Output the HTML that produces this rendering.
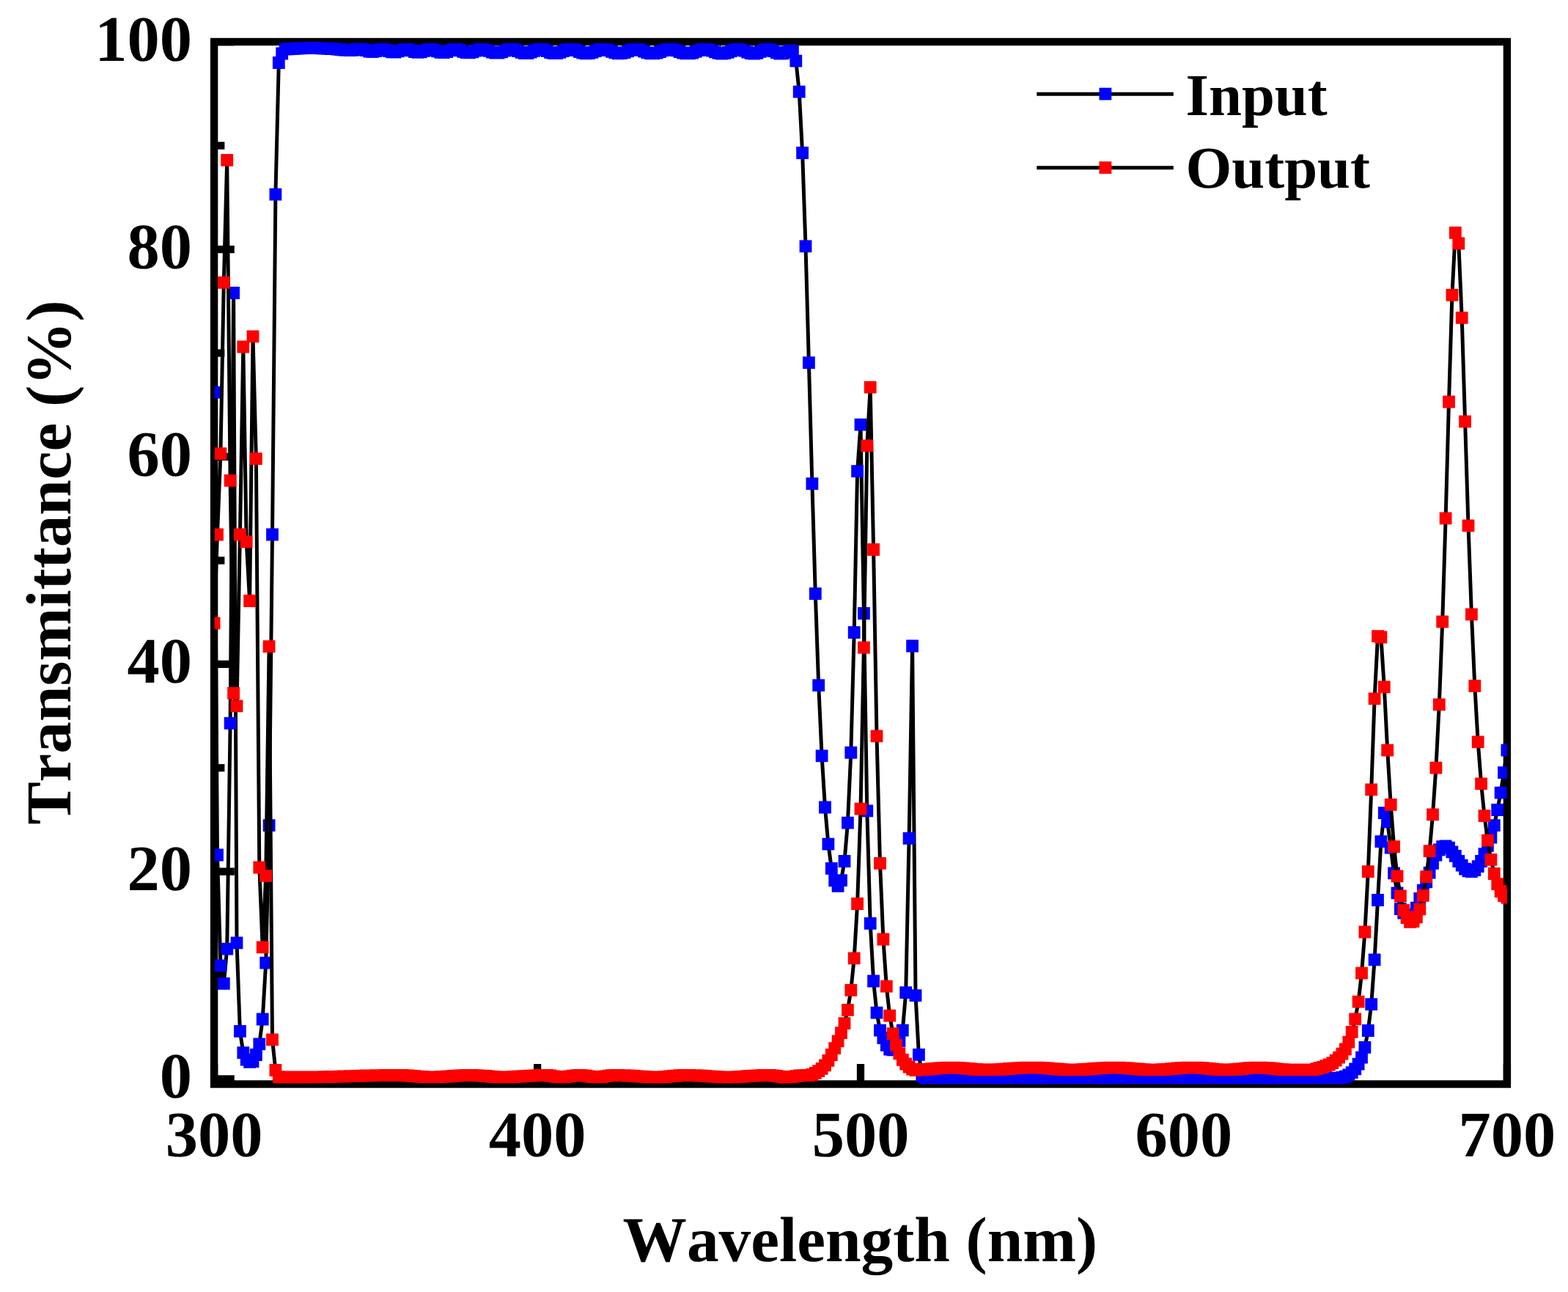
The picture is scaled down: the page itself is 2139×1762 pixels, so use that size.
<!DOCTYPE html>
<html lang="en">
<head>
<meta charset="utf-8">
<title>Transmittance vs Wavelength</title>
<style>
html,body{margin:0;padding:0;background:#fff;}
body{width:2139px;height:1762px;}
svg{display:block;}
text{font-family:"Liberation Serif","DejaVu Serif",serif;font-weight:bold;fill:#000;font-kerning:none;font-variant-ligatures:none;text-rendering:geometricPrecision;}
</style>
</head>
<body>
<svg width="2139" height="1762" viewBox="0 0 2139 1762">
<defs><clipPath id="plotclip"><rect x="292.70000000000005" y="0" width="1763.2000000000003" height="1480.0"/></clipPath></defs>
<rect x="0" y="0" width="2139" height="1762" fill="#fff"/>
<g stroke="#000" stroke-width="10.3" fill="none">
<line x1="292.1" y1="1471.5" x2="319.8" y2="1471.5"/>
<line x1="292.1" y1="1330.1" x2="306.4" y2="1330.1"/>
<line x1="292.1" y1="1188.6" x2="319.8" y2="1188.6"/>
<line x1="292.1" y1="1047.2" x2="306.4" y2="1047.2"/>
<line x1="292.1" y1="905.8" x2="319.8" y2="905.8"/>
<line x1="292.1" y1="764.4" x2="306.4" y2="764.4"/>
<line x1="292.1" y1="622.9" x2="319.8" y2="622.9"/>
<line x1="292.1" y1="481.5" x2="306.4" y2="481.5"/>
<line x1="292.1" y1="340.1" x2="319.8" y2="340.1"/>
<line x1="292.1" y1="198.6" x2="306.4" y2="198.6"/>
<line x1="292.1" y1="57.2" x2="319.8" y2="57.2"/>
<line x1="292.1" y1="1478.5" x2="292.1" y2="1451.0"/>
<line x1="512.6" y1="1478.5" x2="512.6" y2="1464.5"/>
<line x1="733.1" y1="1478.5" x2="733.1" y2="1451.0"/>
<line x1="953.5" y1="1478.5" x2="953.5" y2="1464.5"/>
<line x1="1174.0" y1="1478.5" x2="1174.0" y2="1451.0"/>
<line x1="1394.5" y1="1478.5" x2="1394.5" y2="1464.5"/>
<line x1="1614.9" y1="1478.5" x2="1614.9" y2="1451.0"/>
<line x1="1835.4" y1="1478.5" x2="1835.4" y2="1464.5"/>
<line x1="2055.9" y1="1478.5" x2="2055.9" y2="1451.0"/>
</g>
<rect x="292.1" y="57.0" width="1763.8000000000002" height="1421.5" fill="none" stroke="#000" stroke-width="10.4"/>
<g clip-path="url(#plotclip)">
<polyline points="292.1,535.2 296.5,1166.0 300.9,1316.9 305.3,1341.4 309.7,1294.1 314.1,986.4 318.6,399.5 323.0,1285.8 327.4,1406.4 331.8,1435.7 336.2,1445.1 340.6,1448.4 345.0,1447.7 349.4,1438.5 353.8,1423.8 358.2,1390.0 362.7,1313.1 367.1,1125.7 371.5,729.0 375.9,265.1 380.3,85.5 384.7,73.0 389.1,67.1 393.5,66.8 397.9,66.5 402.3,66.3 406.7,66.0 411.2,65.9 415.6,65.7 420.0,65.6 424.4,65.5 428.8,65.4 433.2,65.6 437.6,65.9 442.0,66.1 446.4,66.3 450.8,66.5 455.3,66.7 459.7,67.1 464.1,67.5 468.5,68.0 472.9,68.4 477.3,68.6 481.7,68.3 486.1,67.5 490.5,67.0 494.9,67.4 499.3,68.7 503.8,70.1 508.2,70.6 512.6,69.7 517.0,68.1 521.4,67.2 525.8,67.9 530.2,69.5 534.6,70.9 539.0,71.0 543.4,69.8 547.9,68.3 552.3,67.3 556.7,67.5 561.1,68.9 565.5,70.6 569.9,71.4 574.3,70.9 578.7,69.3 583.1,67.7 587.5,67.2 591.9,68.1 596.4,69.9 600.8,71.4 605.2,71.6 609.6,70.5 614.0,68.8 618.4,67.4 622.8,67.3 627.2,68.5 631.6,70.3 636.0,71.7 640.5,71.9 644.9,70.9 649.3,69.2 653.7,67.7 658.1,67.1 662.5,67.8 666.9,69.4 671.3,71.2 675.7,72.2 680.1,72.0 684.5,70.8 689.0,69.0 693.4,67.6 697.8,67.1 702.2,67.8 706.6,69.5 711.0,71.3 715.4,72.5 719.8,72.5 724.2,71.2 728.6,69.3 733.1,67.7 737.5,67.1 741.9,67.9 746.3,69.7 750.7,71.6 755.1,72.7 759.5,72.5 763.9,71.3 768.3,69.6 772.7,68.0 777.1,67.2 781.6,67.4 786.0,68.7 790.4,70.5 794.8,72.0 799.2,72.8 803.6,72.5 808.0,71.3 812.4,69.6 816.8,68.0 821.2,67.2 825.6,67.4 830.1,68.6 834.5,70.3 838.9,71.9 843.3,72.8 847.7,72.7 852.1,71.6 856.5,69.9 860.9,68.2 865.3,67.3 869.7,67.3 874.2,68.4 878.6,70.1 883.0,71.8 887.4,72.8 891.8,72.8 896.2,72.0 900.6,70.5 905.0,68.9 909.4,67.6 913.8,67.2 918.2,67.6 922.7,68.9 927.1,70.5 931.5,72.0 935.9,72.9 940.3,72.9 944.7,72.0 949.1,70.4 953.5,68.7 957.9,67.5 962.3,67.2 966.8,67.8 971.2,69.2 975.6,70.9 980.0,72.4 984.4,73.0 988.8,72.7 993.2,71.3 997.6,69.5 1002.0,67.9 1006.4,67.2 1010.8,67.7 1015.3,69.1 1019.7,71.0 1024.1,72.5 1028.5,73.1 1032.9,72.3 1037.3,70.3 1041.7,68.3 1046.1,67.2 1050.5,67.8 1054.9,69.7 1059.4,71.8 1063.8,73.1 1068.2,72.8 1072.6,71.1 1077.0,68.9 1081.4,69.9 1085.8,83.1 1090.2,125.1 1094.6,208.5 1099.0,335.8 1103.4,494.6 1107.9,659.7 1112.3,809.6 1116.7,934.6 1121.1,1030.8 1125.5,1101.0 1129.9,1151.2 1134.3,1184.4 1138.7,1200.9 1143.1,1208.4 1147.5,1200.7 1152.0,1174.5 1156.4,1122.2 1160.8,1026.3 1165.2,862.5 1169.6,642.7 1174.0,579.1 1178.4,836.5 1182.8,1105.9 1187.2,1259.4 1191.6,1338.0 1196.0,1381.1 1200.5,1405.2 1204.9,1415.5 1209.3,1425.4 1213.7,1431.1 1218.1,1431.9 1222.5,1429.1 1226.9,1419.7 1231.3,1405.2 1235.7,1353.7 1240.1,1143.4 1244.6,881.0 1249.0,1357.6 1253.4,1438.4 1257.8,1467.3 1262.2,1470.1 1266.6,1470.1 1271.0,1470.1 1275.4,1470.1 1279.8,1470.1 1284.2,1470.1 1288.6,1470.1 1293.1,1470.1 1297.5,1470.1 1301.9,1470.1 1306.3,1470.1 1310.7,1470.1 1315.1,1470.1 1319.5,1470.1 1323.9,1470.1 1328.3,1470.1 1332.7,1470.1 1337.2,1470.1 1341.6,1470.1 1346.0,1470.1 1350.4,1470.1 1354.8,1470.1 1359.2,1470.1 1363.6,1470.1 1368.0,1470.1 1372.4,1470.1 1376.8,1470.1 1381.2,1470.1 1385.7,1470.1 1390.1,1470.1 1394.5,1470.1 1398.9,1470.1 1403.3,1470.1 1407.7,1470.1 1412.1,1470.1 1416.5,1470.1 1420.9,1470.1 1425.3,1470.1 1429.8,1470.1 1434.2,1470.1 1438.6,1470.1 1443.0,1470.1 1447.4,1470.1 1451.8,1470.1 1456.2,1470.1 1460.6,1470.1 1465.0,1470.1 1469.4,1470.1 1473.8,1470.1 1478.3,1470.1 1482.7,1470.1 1487.1,1470.1 1491.5,1470.1 1495.9,1470.1 1500.3,1470.1 1504.7,1470.1 1509.1,1470.1 1513.5,1470.1 1517.9,1470.1 1522.4,1470.1 1526.8,1470.1 1531.2,1470.1 1535.6,1470.1 1540.0,1470.1 1544.4,1470.1 1548.8,1470.1 1553.2,1470.1 1557.6,1470.1 1562.0,1470.1 1566.4,1470.1 1570.9,1470.1 1575.3,1470.1 1579.7,1470.1 1584.1,1470.1 1588.5,1470.1 1592.9,1470.1 1597.3,1470.1 1601.7,1470.1 1606.1,1470.1 1610.5,1470.1 1614.9,1470.1 1619.4,1470.1 1623.8,1470.1 1628.2,1470.1 1632.6,1470.1 1637.0,1470.1 1641.4,1470.1 1645.8,1470.1 1650.2,1470.1 1654.6,1470.1 1659.0,1470.1 1663.5,1470.1 1667.9,1470.1 1672.3,1470.1 1676.7,1470.1 1681.1,1470.1 1685.5,1470.1 1689.9,1470.1 1694.3,1470.1 1698.7,1470.1 1703.1,1470.1 1707.5,1470.1 1712.0,1470.1 1716.4,1470.1 1720.8,1470.1 1725.2,1470.1 1729.6,1470.1 1734.0,1470.1 1738.4,1470.1 1742.8,1470.1 1747.2,1470.1 1751.6,1470.1 1756.1,1470.1 1760.5,1470.1 1764.9,1470.1 1769.3,1470.1 1773.7,1470.1 1778.1,1470.1 1782.5,1470.1 1786.9,1470.1 1791.3,1470.1 1795.7,1470.1 1800.1,1470.1 1804.6,1470.1 1809.0,1470.1 1813.4,1470.1 1817.8,1470.1 1822.2,1470.1 1826.6,1470.1 1831.0,1469.4 1835.4,1468.2 1839.8,1466.0 1844.2,1462.6 1848.7,1457.9 1853.1,1451.1 1857.5,1442.2 1861.9,1428.4 1866.3,1405.5 1870.7,1369.7 1875.1,1308.9 1879.5,1227.5 1883.9,1147.6 1888.3,1108.6 1892.7,1120.8 1897.2,1156.1 1901.6,1190.8 1906.0,1217.8 1910.4,1239.6 1914.8,1245.2 1919.2,1250.9 1923.6,1252.3 1928.0,1247.3 1932.4,1238.1 1936.8,1225.4 1941.3,1214.1 1945.7,1202.8 1950.1,1190.1 1954.5,1177.3 1958.9,1166.0 1963.3,1158.9 1967.7,1154.7 1972.1,1154.0 1976.5,1156.1 1980.9,1161.8 1985.3,1167.4 1989.8,1174.5 1994.2,1180.2 1998.6,1185.1 2003.0,1187.9 2007.4,1188.6 2011.8,1186.5 2016.2,1181.6 2020.6,1174.5 2025.0,1164.6 2029.4,1153.3 2033.9,1142.0 2038.3,1125.7 2042.7,1104.5 2047.1,1081.2 2051.5,1053.6 2055.9,1023.2" fill="none" stroke="#000" stroke-width="5.0" stroke-linejoin="round"/>
<path d="M283.7 526.8h16.8v16.8h-16.8zM288.1 1157.6h16.8v16.8h-16.8zM292.5 1308.5h16.8v16.8h-16.8zM296.9 1333.0h16.8v16.8h-16.8zM301.3 1285.7h16.8v16.8h-16.8zM305.7 978.0h16.8v16.8h-16.8zM310.2 391.1h16.8v16.8h-16.8zM314.6 1277.4h16.8v16.8h-16.8zM319.0 1398.0h16.8v16.8h-16.8zM323.4 1427.3h16.8v16.8h-16.8zM327.8 1436.7h16.8v16.8h-16.8zM332.2 1440.0h16.8v16.8h-16.8zM336.6 1439.3h16.8v16.8h-16.8zM341.0 1430.1h16.8v16.8h-16.8zM345.4 1415.4h16.8v16.8h-16.8zM349.8 1381.6h16.8v16.8h-16.8zM354.3 1304.7h16.8v16.8h-16.8zM358.7 1117.3h16.8v16.8h-16.8zM363.1 720.6h16.8v16.8h-16.8zM367.5 256.7h16.8v16.8h-16.8zM371.9 77.1h16.8v16.8h-16.8zM376.3 64.6h16.8v16.8h-16.8zM380.7 58.7h16.8v16.8h-16.8zM385.1 58.4h16.8v16.8h-16.8zM389.5 58.1h16.8v16.8h-16.8zM393.9 57.9h16.8v16.8h-16.8zM398.3 57.6h16.8v16.8h-16.8zM402.8 57.5h16.8v16.8h-16.8zM407.2 57.3h16.8v16.8h-16.8zM411.6 57.2h16.8v16.8h-16.8zM416.0 57.1h16.8v16.8h-16.8zM420.4 57.0h16.8v16.8h-16.8zM424.8 57.2h16.8v16.8h-16.8zM429.2 57.5h16.8v16.8h-16.8zM433.6 57.7h16.8v16.8h-16.8zM438.0 57.9h16.8v16.8h-16.8zM442.4 58.1h16.8v16.8h-16.8zM446.9 58.3h16.8v16.8h-16.8zM451.3 58.7h16.8v16.8h-16.8zM455.7 59.1h16.8v16.8h-16.8zM460.1 59.6h16.8v16.8h-16.8zM464.5 60.0h16.8v16.8h-16.8zM468.9 60.2h16.8v16.8h-16.8zM473.3 59.9h16.8v16.8h-16.8zM477.7 59.1h16.8v16.8h-16.8zM482.1 58.6h16.8v16.8h-16.8zM486.5 59.0h16.8v16.8h-16.8zM490.9 60.3h16.8v16.8h-16.8zM495.4 61.7h16.8v16.8h-16.8zM499.8 62.2h16.8v16.8h-16.8zM504.2 61.3h16.8v16.8h-16.8zM508.6 59.7h16.8v16.8h-16.8zM513.0 58.8h16.8v16.8h-16.8zM517.4 59.5h16.8v16.8h-16.8zM521.8 61.1h16.8v16.8h-16.8zM526.2 62.5h16.8v16.8h-16.8zM530.6 62.6h16.8v16.8h-16.8zM535.0 61.4h16.8v16.8h-16.8zM539.5 59.9h16.8v16.8h-16.8zM543.9 58.9h16.8v16.8h-16.8zM548.3 59.1h16.8v16.8h-16.8zM552.7 60.5h16.8v16.8h-16.8zM557.1 62.2h16.8v16.8h-16.8zM561.5 63.0h16.8v16.8h-16.8zM565.9 62.5h16.8v16.8h-16.8zM570.3 60.9h16.8v16.8h-16.8zM574.7 59.3h16.8v16.8h-16.8zM579.1 58.8h16.8v16.8h-16.8zM583.5 59.7h16.8v16.8h-16.8zM588.0 61.5h16.8v16.8h-16.8zM592.4 63.0h16.8v16.8h-16.8zM596.8 63.2h16.8v16.8h-16.8zM601.2 62.1h16.8v16.8h-16.8zM605.6 60.4h16.8v16.8h-16.8zM610.0 59.0h16.8v16.8h-16.8zM614.4 58.9h16.8v16.8h-16.8zM618.8 60.1h16.8v16.8h-16.8zM623.2 61.9h16.8v16.8h-16.8zM627.6 63.3h16.8v16.8h-16.8zM632.1 63.5h16.8v16.8h-16.8zM636.5 62.5h16.8v16.8h-16.8zM640.9 60.8h16.8v16.8h-16.8zM645.3 59.3h16.8v16.8h-16.8zM649.7 58.7h16.8v16.8h-16.8zM654.1 59.4h16.8v16.8h-16.8zM658.5 61.0h16.8v16.8h-16.8zM662.9 62.8h16.8v16.8h-16.8zM667.3 63.8h16.8v16.8h-16.8zM671.7 63.6h16.8v16.8h-16.8zM676.1 62.4h16.8v16.8h-16.8zM680.6 60.6h16.8v16.8h-16.8zM685.0 59.2h16.8v16.8h-16.8zM689.4 58.7h16.8v16.8h-16.8zM693.8 59.4h16.8v16.8h-16.8zM698.2 61.1h16.8v16.8h-16.8zM702.6 62.9h16.8v16.8h-16.8zM707.0 64.1h16.8v16.8h-16.8zM711.4 64.1h16.8v16.8h-16.8zM715.8 62.8h16.8v16.8h-16.8zM720.2 60.9h16.8v16.8h-16.8zM724.7 59.3h16.8v16.8h-16.8zM729.1 58.7h16.8v16.8h-16.8zM733.5 59.5h16.8v16.8h-16.8zM737.9 61.3h16.8v16.8h-16.8zM742.3 63.2h16.8v16.8h-16.8zM746.7 64.3h16.8v16.8h-16.8zM751.1 64.1h16.8v16.8h-16.8zM755.5 62.9h16.8v16.8h-16.8zM759.9 61.2h16.8v16.8h-16.8zM764.3 59.6h16.8v16.8h-16.8zM768.7 58.8h16.8v16.8h-16.8zM773.2 59.0h16.8v16.8h-16.8zM777.6 60.3h16.8v16.8h-16.8zM782.0 62.1h16.8v16.8h-16.8zM786.4 63.6h16.8v16.8h-16.8zM790.8 64.4h16.8v16.8h-16.8zM795.2 64.1h16.8v16.8h-16.8zM799.6 62.9h16.8v16.8h-16.8zM804.0 61.2h16.8v16.8h-16.8zM808.4 59.6h16.8v16.8h-16.8zM812.8 58.8h16.8v16.8h-16.8zM817.2 59.0h16.8v16.8h-16.8zM821.7 60.2h16.8v16.8h-16.8zM826.1 61.9h16.8v16.8h-16.8zM830.5 63.5h16.8v16.8h-16.8zM834.9 64.4h16.8v16.8h-16.8zM839.3 64.3h16.8v16.8h-16.8zM843.7 63.2h16.8v16.8h-16.8zM848.1 61.5h16.8v16.8h-16.8zM852.5 59.8h16.8v16.8h-16.8zM856.9 58.9h16.8v16.8h-16.8zM861.3 58.9h16.8v16.8h-16.8zM865.8 60.0h16.8v16.8h-16.8zM870.2 61.7h16.8v16.8h-16.8zM874.6 63.4h16.8v16.8h-16.8zM879.0 64.4h16.8v16.8h-16.8zM883.4 64.4h16.8v16.8h-16.8zM887.8 63.6h16.8v16.8h-16.8zM892.2 62.1h16.8v16.8h-16.8zM896.6 60.5h16.8v16.8h-16.8zM901.0 59.2h16.8v16.8h-16.8zM905.4 58.8h16.8v16.8h-16.8zM909.8 59.2h16.8v16.8h-16.8zM914.3 60.5h16.8v16.8h-16.8zM918.7 62.1h16.8v16.8h-16.8zM923.1 63.6h16.8v16.8h-16.8zM927.5 64.5h16.8v16.8h-16.8zM931.9 64.5h16.8v16.8h-16.8zM936.3 63.6h16.8v16.8h-16.8zM940.7 62.0h16.8v16.8h-16.8zM945.1 60.3h16.8v16.8h-16.8zM949.5 59.1h16.8v16.8h-16.8zM953.9 58.8h16.8v16.8h-16.8zM958.4 59.4h16.8v16.8h-16.8zM962.8 60.8h16.8v16.8h-16.8zM967.2 62.5h16.8v16.8h-16.8zM971.6 64.0h16.8v16.8h-16.8zM976.0 64.6h16.8v16.8h-16.8zM980.4 64.3h16.8v16.8h-16.8zM984.8 62.9h16.8v16.8h-16.8zM989.2 61.1h16.8v16.8h-16.8zM993.6 59.5h16.8v16.8h-16.8zM998.0 58.8h16.8v16.8h-16.8zM1002.4 59.3h16.8v16.8h-16.8zM1006.9 60.7h16.8v16.8h-16.8zM1011.3 62.6h16.8v16.8h-16.8zM1015.7 64.1h16.8v16.8h-16.8zM1020.1 64.7h16.8v16.8h-16.8zM1024.5 63.9h16.8v16.8h-16.8zM1028.9 61.9h16.8v16.8h-16.8zM1033.3 59.9h16.8v16.8h-16.8zM1037.7 58.8h16.8v16.8h-16.8zM1042.1 59.4h16.8v16.8h-16.8zM1046.5 61.3h16.8v16.8h-16.8zM1051.0 63.4h16.8v16.8h-16.8zM1055.4 64.7h16.8v16.8h-16.8zM1059.8 64.4h16.8v16.8h-16.8zM1064.2 62.7h16.8v16.8h-16.8zM1068.6 60.5h16.8v16.8h-16.8zM1073.0 61.5h16.8v16.8h-16.8zM1077.4 74.7h16.8v16.8h-16.8zM1081.8 116.7h16.8v16.8h-16.8zM1086.2 200.1h16.8v16.8h-16.8zM1090.6 327.4h16.8v16.8h-16.8zM1095.0 486.2h16.8v16.8h-16.8zM1099.5 651.3h16.8v16.8h-16.8zM1103.9 801.2h16.8v16.8h-16.8zM1108.3 926.2h16.8v16.8h-16.8zM1112.7 1022.4h16.8v16.8h-16.8zM1117.1 1092.6h16.8v16.8h-16.8zM1121.5 1142.8h16.8v16.8h-16.8zM1125.9 1176.0h16.8v16.8h-16.8zM1130.3 1192.5h16.8v16.8h-16.8zM1134.7 1200.0h16.8v16.8h-16.8zM1139.1 1192.3h16.8v16.8h-16.8zM1143.6 1166.1h16.8v16.8h-16.8zM1148.0 1113.8h16.8v16.8h-16.8zM1152.4 1017.9h16.8v16.8h-16.8zM1156.8 854.1h16.8v16.8h-16.8zM1161.2 634.3h16.8v16.8h-16.8zM1165.6 570.7h16.8v16.8h-16.8zM1170.0 828.1h16.8v16.8h-16.8zM1174.4 1097.5h16.8v16.8h-16.8zM1178.8 1251.0h16.8v16.8h-16.8zM1183.2 1329.6h16.8v16.8h-16.8zM1187.6 1372.7h16.8v16.8h-16.8zM1192.1 1396.8h16.8v16.8h-16.8zM1196.5 1407.1h16.8v16.8h-16.8zM1200.9 1417.0h16.8v16.8h-16.8zM1205.3 1422.7h16.8v16.8h-16.8zM1209.7 1423.5h16.8v16.8h-16.8zM1214.1 1420.7h16.8v16.8h-16.8zM1218.5 1411.3h16.8v16.8h-16.8zM1222.9 1396.8h16.8v16.8h-16.8zM1227.3 1345.3h16.8v16.8h-16.8zM1231.7 1135.0h16.8v16.8h-16.8zM1236.2 872.6h16.8v16.8h-16.8zM1240.6 1349.2h16.8v16.8h-16.8zM1245.0 1430.0h16.8v16.8h-16.8zM1249.4 1458.9h16.8v16.8h-16.8zM1253.8 1461.7h16.8v16.8h-16.8zM1258.2 1461.7h16.8v16.8h-16.8zM1262.6 1461.7h16.8v16.8h-16.8zM1267.0 1461.7h16.8v16.8h-16.8zM1271.4 1461.7h16.8v16.8h-16.8zM1275.8 1461.7h16.8v16.8h-16.8zM1280.2 1461.7h16.8v16.8h-16.8zM1284.7 1461.7h16.8v16.8h-16.8zM1289.1 1461.7h16.8v16.8h-16.8zM1293.5 1461.7h16.8v16.8h-16.8zM1297.9 1461.7h16.8v16.8h-16.8zM1302.3 1461.7h16.8v16.8h-16.8zM1306.7 1461.7h16.8v16.8h-16.8zM1311.1 1461.7h16.8v16.8h-16.8zM1315.5 1461.7h16.8v16.8h-16.8zM1319.9 1461.7h16.8v16.8h-16.8zM1324.3 1461.7h16.8v16.8h-16.8zM1328.8 1461.7h16.8v16.8h-16.8zM1333.2 1461.7h16.8v16.8h-16.8zM1337.6 1461.7h16.8v16.8h-16.8zM1342.0 1461.7h16.8v16.8h-16.8zM1346.4 1461.7h16.8v16.8h-16.8zM1350.8 1461.7h16.8v16.8h-16.8zM1355.2 1461.7h16.8v16.8h-16.8zM1359.6 1461.7h16.8v16.8h-16.8zM1364.0 1461.7h16.8v16.8h-16.8zM1368.4 1461.7h16.8v16.8h-16.8zM1372.8 1461.7h16.8v16.8h-16.8zM1377.3 1461.7h16.8v16.8h-16.8zM1381.7 1461.7h16.8v16.8h-16.8zM1386.1 1461.7h16.8v16.8h-16.8zM1390.5 1461.7h16.8v16.8h-16.8zM1394.9 1461.7h16.8v16.8h-16.8zM1399.3 1461.7h16.8v16.8h-16.8zM1403.7 1461.7h16.8v16.8h-16.8zM1408.1 1461.7h16.8v16.8h-16.8zM1412.5 1461.7h16.8v16.8h-16.8zM1416.9 1461.7h16.8v16.8h-16.8zM1421.4 1461.7h16.8v16.8h-16.8zM1425.8 1461.7h16.8v16.8h-16.8zM1430.2 1461.7h16.8v16.8h-16.8zM1434.6 1461.7h16.8v16.8h-16.8zM1439.0 1461.7h16.8v16.8h-16.8zM1443.4 1461.7h16.8v16.8h-16.8zM1447.8 1461.7h16.8v16.8h-16.8zM1452.2 1461.7h16.8v16.8h-16.8zM1456.6 1461.7h16.8v16.8h-16.8zM1461.0 1461.7h16.8v16.8h-16.8zM1465.4 1461.7h16.8v16.8h-16.8zM1469.9 1461.7h16.8v16.8h-16.8zM1474.3 1461.7h16.8v16.8h-16.8zM1478.7 1461.7h16.8v16.8h-16.8zM1483.1 1461.7h16.8v16.8h-16.8zM1487.5 1461.7h16.8v16.8h-16.8zM1491.9 1461.7h16.8v16.8h-16.8zM1496.3 1461.7h16.8v16.8h-16.8zM1500.7 1461.7h16.8v16.8h-16.8zM1505.1 1461.7h16.8v16.8h-16.8zM1509.5 1461.7h16.8v16.8h-16.8zM1514.0 1461.7h16.8v16.8h-16.8zM1518.4 1461.7h16.8v16.8h-16.8zM1522.8 1461.7h16.8v16.8h-16.8zM1527.2 1461.7h16.8v16.8h-16.8zM1531.6 1461.7h16.8v16.8h-16.8zM1536.0 1461.7h16.8v16.8h-16.8zM1540.4 1461.7h16.8v16.8h-16.8zM1544.8 1461.7h16.8v16.8h-16.8zM1549.2 1461.7h16.8v16.8h-16.8zM1553.6 1461.7h16.8v16.8h-16.8zM1558.0 1461.7h16.8v16.8h-16.8zM1562.5 1461.7h16.8v16.8h-16.8zM1566.9 1461.7h16.8v16.8h-16.8zM1571.3 1461.7h16.8v16.8h-16.8zM1575.7 1461.7h16.8v16.8h-16.8zM1580.1 1461.7h16.8v16.8h-16.8zM1584.5 1461.7h16.8v16.8h-16.8zM1588.9 1461.7h16.8v16.8h-16.8zM1593.3 1461.7h16.8v16.8h-16.8zM1597.7 1461.7h16.8v16.8h-16.8zM1602.1 1461.7h16.8v16.8h-16.8zM1606.5 1461.7h16.8v16.8h-16.8zM1611.0 1461.7h16.8v16.8h-16.8zM1615.4 1461.7h16.8v16.8h-16.8zM1619.8 1461.7h16.8v16.8h-16.8zM1624.2 1461.7h16.8v16.8h-16.8zM1628.6 1461.7h16.8v16.8h-16.8zM1633.0 1461.7h16.8v16.8h-16.8zM1637.4 1461.7h16.8v16.8h-16.8zM1641.8 1461.7h16.8v16.8h-16.8zM1646.2 1461.7h16.8v16.8h-16.8zM1650.6 1461.7h16.8v16.8h-16.8zM1655.1 1461.7h16.8v16.8h-16.8zM1659.5 1461.7h16.8v16.8h-16.8zM1663.9 1461.7h16.8v16.8h-16.8zM1668.3 1461.7h16.8v16.8h-16.8zM1672.7 1461.7h16.8v16.8h-16.8zM1677.1 1461.7h16.8v16.8h-16.8zM1681.5 1461.7h16.8v16.8h-16.8zM1685.9 1461.7h16.8v16.8h-16.8zM1690.3 1461.7h16.8v16.8h-16.8zM1694.7 1461.7h16.8v16.8h-16.8zM1699.1 1461.7h16.8v16.8h-16.8zM1703.6 1461.7h16.8v16.8h-16.8zM1708.0 1461.7h16.8v16.8h-16.8zM1712.4 1461.7h16.8v16.8h-16.8zM1716.8 1461.7h16.8v16.8h-16.8zM1721.2 1461.7h16.8v16.8h-16.8zM1725.6 1461.7h16.8v16.8h-16.8zM1730.0 1461.7h16.8v16.8h-16.8zM1734.4 1461.7h16.8v16.8h-16.8zM1738.8 1461.7h16.8v16.8h-16.8zM1743.2 1461.7h16.8v16.8h-16.8zM1747.7 1461.7h16.8v16.8h-16.8zM1752.1 1461.7h16.8v16.8h-16.8zM1756.5 1461.7h16.8v16.8h-16.8zM1760.9 1461.7h16.8v16.8h-16.8zM1765.3 1461.7h16.8v16.8h-16.8zM1769.7 1461.7h16.8v16.8h-16.8zM1774.1 1461.7h16.8v16.8h-16.8zM1778.5 1461.7h16.8v16.8h-16.8zM1782.9 1461.7h16.8v16.8h-16.8zM1787.3 1461.7h16.8v16.8h-16.8zM1791.7 1461.7h16.8v16.8h-16.8zM1796.2 1461.7h16.8v16.8h-16.8zM1800.6 1461.7h16.8v16.8h-16.8zM1805.0 1461.7h16.8v16.8h-16.8zM1809.4 1461.7h16.8v16.8h-16.8zM1813.8 1461.7h16.8v16.8h-16.8zM1818.2 1461.7h16.8v16.8h-16.8zM1822.6 1461.0h16.8v16.8h-16.8zM1827.0 1459.8h16.8v16.8h-16.8zM1831.4 1457.6h16.8v16.8h-16.8zM1835.8 1454.2h16.8v16.8h-16.8zM1840.3 1449.5h16.8v16.8h-16.8zM1844.7 1442.7h16.8v16.8h-16.8zM1849.1 1433.8h16.8v16.8h-16.8zM1853.5 1420.0h16.8v16.8h-16.8zM1857.9 1397.1h16.8v16.8h-16.8zM1862.3 1361.3h16.8v16.8h-16.8zM1866.7 1300.5h16.8v16.8h-16.8zM1871.1 1219.1h16.8v16.8h-16.8zM1875.5 1139.2h16.8v16.8h-16.8zM1879.9 1100.2h16.8v16.8h-16.8zM1884.3 1112.4h16.8v16.8h-16.8zM1888.8 1147.7h16.8v16.8h-16.8zM1893.2 1182.4h16.8v16.8h-16.8zM1897.6 1209.4h16.8v16.8h-16.8zM1902.0 1231.2h16.8v16.8h-16.8zM1906.4 1236.8h16.8v16.8h-16.8zM1910.8 1242.5h16.8v16.8h-16.8zM1915.2 1243.9h16.8v16.8h-16.8zM1919.6 1238.9h16.8v16.8h-16.8zM1924.0 1229.7h16.8v16.8h-16.8zM1928.4 1217.0h16.8v16.8h-16.8zM1932.9 1205.7h16.8v16.8h-16.8zM1937.3 1194.4h16.8v16.8h-16.8zM1941.7 1181.7h16.8v16.8h-16.8zM1946.1 1168.9h16.8v16.8h-16.8zM1950.5 1157.6h16.8v16.8h-16.8zM1954.9 1150.5h16.8v16.8h-16.8zM1959.3 1146.3h16.8v16.8h-16.8zM1963.7 1145.6h16.8v16.8h-16.8zM1968.1 1147.7h16.8v16.8h-16.8zM1972.5 1153.4h16.8v16.8h-16.8zM1976.9 1159.0h16.8v16.8h-16.8zM1981.4 1166.1h16.8v16.8h-16.8zM1985.8 1171.8h16.8v16.8h-16.8zM1990.2 1176.7h16.8v16.8h-16.8zM1994.6 1179.5h16.8v16.8h-16.8zM1999.0 1180.2h16.8v16.8h-16.8zM2003.4 1178.1h16.8v16.8h-16.8zM2007.8 1173.2h16.8v16.8h-16.8zM2012.2 1166.1h16.8v16.8h-16.8zM2016.6 1156.2h16.8v16.8h-16.8zM2021.0 1144.9h16.8v16.8h-16.8zM2025.5 1133.6h16.8v16.8h-16.8zM2029.9 1117.3h16.8v16.8h-16.8zM2034.3 1096.1h16.8v16.8h-16.8zM2038.7 1072.8h16.8v16.8h-16.8zM2043.1 1045.2h16.8v16.8h-16.8zM2047.5 1014.8h16.8v16.8h-16.8z" fill="#0000ff"/>
<polyline points="292.1,849.9 296.5,729.0 300.9,618.7 305.3,385.3 309.7,218.4 314.1,655.4 318.6,945.4 323.0,962.8 327.4,729.0 331.8,473.0 336.2,738.9 340.6,819.5 345.0,458.9 349.4,625.7 353.8,1183.0 358.2,1291.9 362.7,1194.3 367.1,881.7 371.5,1417.8 375.9,1459.5 380.3,1468.7 384.7,1469.0 389.1,1469.0 393.5,1469.0 397.9,1469.0 402.3,1469.0 406.7,1469.0 411.2,1469.0 415.6,1469.0 420.0,1468.9 424.4,1468.9 428.8,1468.9 433.2,1468.8 437.6,1468.8 442.0,1468.7 446.4,1468.6 450.8,1468.5 455.3,1468.4 459.7,1468.3 464.1,1468.1 468.5,1468.0 472.9,1467.9 477.3,1467.7 481.7,1467.6 486.1,1467.4 490.5,1467.3 494.9,1467.2 499.3,1467.0 503.8,1466.9 508.2,1466.8 512.6,1466.7 517.0,1466.6 521.4,1466.6 525.8,1466.5 530.2,1466.5 534.6,1466.4 539.0,1466.4 543.4,1466.4 547.9,1466.5 552.3,1466.7 556.7,1467.0 561.1,1467.3 565.5,1467.7 569.9,1468.1 574.3,1468.4 578.7,1468.7 583.1,1468.9 587.5,1468.9 591.9,1468.9 596.4,1468.8 600.8,1468.7 605.2,1468.4 609.6,1468.1 614.0,1467.8 618.4,1467.5 622.8,1467.2 627.2,1466.9 631.6,1466.7 636.0,1466.5 640.5,1466.4 644.9,1466.4 649.3,1466.6 653.7,1466.8 658.1,1467.2 662.5,1467.5 666.9,1467.9 671.3,1468.3 675.7,1468.6 680.1,1468.8 684.5,1468.9 689.0,1468.9 693.4,1468.9 697.8,1468.7 702.2,1468.5 706.6,1468.2 711.0,1468.0 715.4,1467.7 719.8,1467.4 724.2,1467.1 728.6,1466.8 733.1,1466.6 737.5,1466.5 741.9,1466.4 746.3,1466.5 750.7,1467.0 755.1,1467.8 759.5,1468.5 763.9,1468.9 768.3,1468.9 772.7,1468.4 777.1,1467.8 781.6,1467.1 786.0,1466.6 790.4,1466.4 794.8,1466.7 799.2,1467.2 803.6,1467.9 808.0,1468.6 812.4,1468.9 816.8,1468.9 821.2,1468.5 825.6,1467.8 830.1,1467.1 834.5,1466.6 838.9,1466.4 843.3,1466.4 847.7,1466.6 852.1,1466.7 856.5,1467.0 860.9,1467.2 865.3,1467.5 869.7,1467.8 874.2,1468.1 878.6,1468.4 883.0,1468.6 887.4,1468.8 891.8,1468.9 896.2,1469.0 900.6,1468.9 905.0,1468.7 909.4,1468.3 913.8,1467.9 918.2,1467.5 922.7,1467.1 927.1,1466.7 931.5,1466.5 935.9,1466.4 940.3,1466.4 944.7,1466.6 949.1,1466.7 953.5,1467.0 957.9,1467.2 962.3,1467.5 966.8,1467.8 971.2,1468.1 975.6,1468.4 980.0,1468.6 984.4,1468.8 988.8,1468.9 993.2,1469.0 997.6,1468.9 1002.0,1468.8 1006.4,1468.6 1010.8,1468.4 1015.3,1468.1 1019.7,1467.7 1024.1,1467.4 1028.5,1467.1 1032.9,1466.9 1037.3,1466.6 1041.7,1466.5 1046.1,1466.4 1050.5,1466.5 1054.9,1466.9 1059.4,1467.5 1063.8,1468.2 1068.2,1468.8 1072.6,1469.0 1077.0,1468.8 1081.4,1468.3 1085.8,1467.7 1090.2,1467.0 1094.6,1466.6 1099.0,1466.4 1103.4,1466.7 1107.9,1465.3 1112.3,1463.3 1116.7,1460.6 1121.1,1457.4 1125.5,1452.8 1129.9,1446.3 1134.3,1438.5 1138.7,1429.6 1143.1,1419.9 1147.5,1408.6 1152.0,1395.6 1156.4,1377.4 1160.8,1350.4 1165.2,1306.9 1169.6,1232.5 1174.0,1103.1 1178.4,883.2 1182.8,607.9 1187.2,528.2 1191.6,749.5 1196.0,1003.9 1200.5,1177.3 1204.9,1281.0 1209.3,1345.2 1213.7,1385.2 1218.1,1409.6 1222.5,1425.4 1226.9,1436.8 1231.3,1445.3 1235.7,1451.0 1240.1,1455.2 1244.6,1458.2 1249.0,1459.5 1253.4,1458.9 1257.8,1458.7 1262.2,1458.4 1266.6,1458.1 1271.0,1457.7 1275.4,1457.3 1279.8,1456.9 1284.2,1456.6 1288.6,1456.3 1293.1,1456.2 1297.5,1456.1 1301.9,1456.1 1306.3,1456.3 1310.7,1456.6 1315.1,1456.9 1319.5,1457.3 1323.9,1457.7 1328.3,1458.1 1332.7,1458.5 1337.2,1458.7 1341.6,1458.9 1346.0,1458.9 1350.4,1458.9 1354.8,1458.7 1359.2,1458.6 1363.6,1458.3 1368.0,1458.1 1372.4,1457.8 1376.8,1457.5 1381.2,1457.2 1385.7,1456.9 1390.1,1456.6 1394.5,1456.4 1398.9,1456.2 1403.3,1456.1 1407.7,1456.1 1412.1,1456.1 1416.5,1456.2 1420.9,1456.4 1425.3,1456.7 1429.8,1457.0 1434.2,1457.3 1438.6,1457.7 1443.0,1458.0 1447.4,1458.3 1451.8,1458.6 1456.2,1458.8 1460.6,1458.9 1465.0,1458.9 1469.4,1458.9 1473.8,1458.7 1478.3,1458.5 1482.7,1458.2 1487.1,1457.9 1491.5,1457.5 1495.9,1457.2 1500.3,1456.8 1504.7,1456.6 1509.1,1456.3 1513.5,1456.2 1517.9,1456.1 1522.4,1456.1 1526.8,1456.2 1531.2,1456.4 1535.6,1456.7 1540.0,1457.0 1544.4,1457.3 1548.8,1457.7 1553.2,1458.0 1557.6,1458.4 1562.0,1458.6 1566.4,1458.8 1570.9,1458.9 1575.3,1458.9 1579.7,1458.8 1584.1,1458.6 1588.5,1458.4 1592.9,1458.1 1597.3,1457.7 1601.7,1457.4 1606.1,1457.0 1610.5,1456.7 1614.9,1456.4 1619.4,1456.2 1623.8,1456.1 1628.2,1456.1 1632.6,1456.2 1637.0,1456.4 1641.4,1456.7 1645.8,1457.1 1650.2,1457.5 1654.6,1457.9 1659.0,1458.3 1663.5,1458.6 1667.9,1458.8 1672.3,1458.9 1676.7,1458.9 1681.1,1458.7 1685.5,1458.4 1689.9,1458.0 1694.3,1457.6 1698.7,1457.1 1703.1,1456.7 1707.5,1456.4 1712.0,1456.2 1716.4,1456.1 1720.8,1456.1 1725.2,1456.3 1729.6,1456.6 1734.0,1457.0 1738.4,1457.4 1742.8,1457.9 1747.2,1458.3 1751.6,1458.6 1756.1,1458.8 1760.5,1458.9 1764.9,1458.9 1769.3,1458.9 1773.7,1458.9 1778.1,1458.9 1782.5,1458.9 1786.9,1458.9 1791.3,1458.9 1795.7,1457.6 1800.1,1456.5 1804.6,1455.4 1809.0,1453.7 1813.4,1452.0 1817.8,1449.7 1822.2,1446.2 1826.6,1442.2 1831.0,1437.1 1835.4,1430.8 1839.8,1421.2 1844.2,1407.4 1848.7,1389.8 1853.1,1366.1 1857.5,1327.2 1861.9,1271.0 1866.3,1188.6 1870.7,1076.9 1875.1,952.9 1879.5,867.6 1883.9,869.0 1888.3,936.9 1892.7,1023.2 1897.2,1097.4 1901.6,1154.7 1906.0,1194.9 1910.4,1222.0 1914.8,1241.3 1919.2,1251.7 1923.6,1257.4 1928.0,1256.7 1932.4,1250.9 1936.8,1239.8 1941.3,1221.3 1945.7,1195.7 1950.1,1160.6 1954.5,1110.9 1958.9,1047.2 1963.3,960.9 1967.7,847.8 1972.1,706.9 1976.5,548.0 1980.9,402.3 1985.3,317.4 1989.8,332.0 1994.2,433.4 1998.6,574.8 2003.0,716.8 2007.4,837.9 2011.8,935.5 2016.2,1011.9 2020.6,1068.8 2025.0,1112.7 2029.4,1146.2 2033.9,1172.4 2038.3,1191.5 2042.7,1205.6 2047.1,1215.5 2051.5,1221.7 2055.9,1224.0" fill="none" stroke="#000" stroke-width="5.0" stroke-linejoin="round"/>
<path d="M283.7 841.5h16.8v16.8h-16.8zM288.1 720.6h16.8v16.8h-16.8zM292.5 610.3h16.8v16.8h-16.8zM296.9 376.9h16.8v16.8h-16.8zM301.3 210.0h16.8v16.8h-16.8zM305.7 647.0h16.8v16.8h-16.8zM310.2 937.0h16.8v16.8h-16.8zM314.6 954.4h16.8v16.8h-16.8zM319.0 720.6h16.8v16.8h-16.8zM323.4 464.6h16.8v16.8h-16.8zM327.8 730.5h16.8v16.8h-16.8zM332.2 811.1h16.8v16.8h-16.8zM336.6 450.5h16.8v16.8h-16.8zM341.0 617.3h16.8v16.8h-16.8zM345.4 1174.6h16.8v16.8h-16.8zM349.8 1283.5h16.8v16.8h-16.8zM354.3 1185.9h16.8v16.8h-16.8zM358.7 873.3h16.8v16.8h-16.8zM363.1 1409.4h16.8v16.8h-16.8zM367.5 1451.1h16.8v16.8h-16.8zM371.9 1460.3h16.8v16.8h-16.8zM376.3 1460.6h16.8v16.8h-16.8zM380.7 1460.6h16.8v16.8h-16.8zM385.1 1460.6h16.8v16.8h-16.8zM389.5 1460.6h16.8v16.8h-16.8zM393.9 1460.6h16.8v16.8h-16.8zM398.3 1460.6h16.8v16.8h-16.8zM402.8 1460.6h16.8v16.8h-16.8zM407.2 1460.6h16.8v16.8h-16.8zM411.6 1460.5h16.8v16.8h-16.8zM416.0 1460.5h16.8v16.8h-16.8zM420.4 1460.5h16.8v16.8h-16.8zM424.8 1460.4h16.8v16.8h-16.8zM429.2 1460.4h16.8v16.8h-16.8zM433.6 1460.3h16.8v16.8h-16.8zM438.0 1460.2h16.8v16.8h-16.8zM442.4 1460.1h16.8v16.8h-16.8zM446.9 1460.0h16.8v16.8h-16.8zM451.3 1459.9h16.8v16.8h-16.8zM455.7 1459.7h16.8v16.8h-16.8zM460.1 1459.6h16.8v16.8h-16.8zM464.5 1459.5h16.8v16.8h-16.8zM468.9 1459.3h16.8v16.8h-16.8zM473.3 1459.2h16.8v16.8h-16.8zM477.7 1459.0h16.8v16.8h-16.8zM482.1 1458.9h16.8v16.8h-16.8zM486.5 1458.8h16.8v16.8h-16.8zM490.9 1458.6h16.8v16.8h-16.8zM495.4 1458.5h16.8v16.8h-16.8zM499.8 1458.4h16.8v16.8h-16.8zM504.2 1458.3h16.8v16.8h-16.8zM508.6 1458.2h16.8v16.8h-16.8zM513.0 1458.2h16.8v16.8h-16.8zM517.4 1458.1h16.8v16.8h-16.8zM521.8 1458.1h16.8v16.8h-16.8zM526.2 1458.0h16.8v16.8h-16.8zM530.6 1458.0h16.8v16.8h-16.8zM535.0 1458.0h16.8v16.8h-16.8zM539.5 1458.1h16.8v16.8h-16.8zM543.9 1458.3h16.8v16.8h-16.8zM548.3 1458.6h16.8v16.8h-16.8zM552.7 1458.9h16.8v16.8h-16.8zM557.1 1459.3h16.8v16.8h-16.8zM561.5 1459.7h16.8v16.8h-16.8zM565.9 1460.0h16.8v16.8h-16.8zM570.3 1460.3h16.8v16.8h-16.8zM574.7 1460.5h16.8v16.8h-16.8zM579.1 1460.5h16.8v16.8h-16.8zM583.5 1460.5h16.8v16.8h-16.8zM588.0 1460.4h16.8v16.8h-16.8zM592.4 1460.3h16.8v16.8h-16.8zM596.8 1460.0h16.8v16.8h-16.8zM601.2 1459.7h16.8v16.8h-16.8zM605.6 1459.4h16.8v16.8h-16.8zM610.0 1459.1h16.8v16.8h-16.8zM614.4 1458.8h16.8v16.8h-16.8zM618.8 1458.5h16.8v16.8h-16.8zM623.2 1458.3h16.8v16.8h-16.8zM627.6 1458.1h16.8v16.8h-16.8zM632.1 1458.0h16.8v16.8h-16.8zM636.5 1458.0h16.8v16.8h-16.8zM640.9 1458.2h16.8v16.8h-16.8zM645.3 1458.4h16.8v16.8h-16.8zM649.7 1458.8h16.8v16.8h-16.8zM654.1 1459.1h16.8v16.8h-16.8zM658.5 1459.5h16.8v16.8h-16.8zM662.9 1459.9h16.8v16.8h-16.8zM667.3 1460.2h16.8v16.8h-16.8zM671.7 1460.4h16.8v16.8h-16.8zM676.1 1460.5h16.8v16.8h-16.8zM680.6 1460.5h16.8v16.8h-16.8zM685.0 1460.5h16.8v16.8h-16.8zM689.4 1460.3h16.8v16.8h-16.8zM693.8 1460.1h16.8v16.8h-16.8zM698.2 1459.8h16.8v16.8h-16.8zM702.6 1459.6h16.8v16.8h-16.8zM707.0 1459.3h16.8v16.8h-16.8zM711.4 1459.0h16.8v16.8h-16.8zM715.8 1458.7h16.8v16.8h-16.8zM720.2 1458.4h16.8v16.8h-16.8zM724.7 1458.2h16.8v16.8h-16.8zM729.1 1458.1h16.8v16.8h-16.8zM733.5 1458.0h16.8v16.8h-16.8zM737.9 1458.1h16.8v16.8h-16.8zM742.3 1458.6h16.8v16.8h-16.8zM746.7 1459.4h16.8v16.8h-16.8zM751.1 1460.1h16.8v16.8h-16.8zM755.5 1460.5h16.8v16.8h-16.8zM759.9 1460.5h16.8v16.8h-16.8zM764.3 1460.0h16.8v16.8h-16.8zM768.7 1459.4h16.8v16.8h-16.8zM773.2 1458.7h16.8v16.8h-16.8zM777.6 1458.2h16.8v16.8h-16.8zM782.0 1458.0h16.8v16.8h-16.8zM786.4 1458.3h16.8v16.8h-16.8zM790.8 1458.8h16.8v16.8h-16.8zM795.2 1459.5h16.8v16.8h-16.8zM799.6 1460.2h16.8v16.8h-16.8zM804.0 1460.5h16.8v16.8h-16.8zM808.4 1460.5h16.8v16.8h-16.8zM812.8 1460.1h16.8v16.8h-16.8zM817.2 1459.4h16.8v16.8h-16.8zM821.7 1458.7h16.8v16.8h-16.8zM826.1 1458.2h16.8v16.8h-16.8zM830.5 1458.0h16.8v16.8h-16.8zM834.9 1458.0h16.8v16.8h-16.8zM839.3 1458.2h16.8v16.8h-16.8zM843.7 1458.3h16.8v16.8h-16.8zM848.1 1458.6h16.8v16.8h-16.8zM852.5 1458.8h16.8v16.8h-16.8zM856.9 1459.1h16.8v16.8h-16.8zM861.3 1459.4h16.8v16.8h-16.8zM865.8 1459.7h16.8v16.8h-16.8zM870.2 1460.0h16.8v16.8h-16.8zM874.6 1460.2h16.8v16.8h-16.8zM879.0 1460.4h16.8v16.8h-16.8zM883.4 1460.5h16.8v16.8h-16.8zM887.8 1460.6h16.8v16.8h-16.8zM892.2 1460.5h16.8v16.8h-16.8zM896.6 1460.3h16.8v16.8h-16.8zM901.0 1459.9h16.8v16.8h-16.8zM905.4 1459.5h16.8v16.8h-16.8zM909.8 1459.1h16.8v16.8h-16.8zM914.3 1458.7h16.8v16.8h-16.8zM918.7 1458.3h16.8v16.8h-16.8zM923.1 1458.1h16.8v16.8h-16.8zM927.5 1458.0h16.8v16.8h-16.8zM931.9 1458.0h16.8v16.8h-16.8zM936.3 1458.2h16.8v16.8h-16.8zM940.7 1458.3h16.8v16.8h-16.8zM945.1 1458.6h16.8v16.8h-16.8zM949.5 1458.8h16.8v16.8h-16.8zM953.9 1459.1h16.8v16.8h-16.8zM958.4 1459.4h16.8v16.8h-16.8zM962.8 1459.7h16.8v16.8h-16.8zM967.2 1460.0h16.8v16.8h-16.8zM971.6 1460.2h16.8v16.8h-16.8zM976.0 1460.4h16.8v16.8h-16.8zM980.4 1460.5h16.8v16.8h-16.8zM984.8 1460.6h16.8v16.8h-16.8zM989.2 1460.5h16.8v16.8h-16.8zM993.6 1460.4h16.8v16.8h-16.8zM998.0 1460.2h16.8v16.8h-16.8zM1002.4 1460.0h16.8v16.8h-16.8zM1006.9 1459.7h16.8v16.8h-16.8zM1011.3 1459.3h16.8v16.8h-16.8zM1015.7 1459.0h16.8v16.8h-16.8zM1020.1 1458.7h16.8v16.8h-16.8zM1024.5 1458.5h16.8v16.8h-16.8zM1028.9 1458.2h16.8v16.8h-16.8zM1033.3 1458.1h16.8v16.8h-16.8zM1037.7 1458.0h16.8v16.8h-16.8zM1042.1 1458.1h16.8v16.8h-16.8zM1046.5 1458.5h16.8v16.8h-16.8zM1051.0 1459.1h16.8v16.8h-16.8zM1055.4 1459.8h16.8v16.8h-16.8zM1059.8 1460.4h16.8v16.8h-16.8zM1064.2 1460.6h16.8v16.8h-16.8zM1068.6 1460.4h16.8v16.8h-16.8zM1073.0 1459.9h16.8v16.8h-16.8zM1077.4 1459.3h16.8v16.8h-16.8zM1081.8 1458.6h16.8v16.8h-16.8zM1086.2 1458.2h16.8v16.8h-16.8zM1090.6 1458.0h16.8v16.8h-16.8zM1095.0 1458.3h16.8v16.8h-16.8zM1099.5 1456.9h16.8v16.8h-16.8zM1103.9 1454.9h16.8v16.8h-16.8zM1108.3 1452.2h16.8v16.8h-16.8zM1112.7 1449.0h16.8v16.8h-16.8zM1117.1 1444.4h16.8v16.8h-16.8zM1121.5 1437.9h16.8v16.8h-16.8zM1125.9 1430.1h16.8v16.8h-16.8zM1130.3 1421.2h16.8v16.8h-16.8zM1134.7 1411.5h16.8v16.8h-16.8zM1139.1 1400.2h16.8v16.8h-16.8zM1143.6 1387.2h16.8v16.8h-16.8zM1148.0 1369.0h16.8v16.8h-16.8zM1152.4 1342.0h16.8v16.8h-16.8zM1156.8 1298.5h16.8v16.8h-16.8zM1161.2 1224.1h16.8v16.8h-16.8zM1165.6 1094.7h16.8v16.8h-16.8zM1170.0 874.8h16.8v16.8h-16.8zM1174.4 599.5h16.8v16.8h-16.8zM1178.8 519.8h16.8v16.8h-16.8zM1183.2 741.1h16.8v16.8h-16.8zM1187.6 995.5h16.8v16.8h-16.8zM1192.1 1168.9h16.8v16.8h-16.8zM1196.5 1272.6h16.8v16.8h-16.8zM1200.9 1336.8h16.8v16.8h-16.8zM1205.3 1376.8h16.8v16.8h-16.8zM1209.7 1401.2h16.8v16.8h-16.8zM1214.1 1417.0h16.8v16.8h-16.8zM1218.5 1428.4h16.8v16.8h-16.8zM1222.9 1436.9h16.8v16.8h-16.8zM1227.3 1442.6h16.8v16.8h-16.8zM1231.7 1446.8h16.8v16.8h-16.8zM1236.2 1449.8h16.8v16.8h-16.8zM1240.6 1451.1h16.8v16.8h-16.8zM1245.0 1450.5h16.8v16.8h-16.8zM1249.4 1450.3h16.8v16.8h-16.8zM1253.8 1450.0h16.8v16.8h-16.8zM1258.2 1449.7h16.8v16.8h-16.8zM1262.6 1449.3h16.8v16.8h-16.8zM1267.0 1448.9h16.8v16.8h-16.8zM1271.4 1448.5h16.8v16.8h-16.8zM1275.8 1448.2h16.8v16.8h-16.8zM1280.2 1447.9h16.8v16.8h-16.8zM1284.7 1447.8h16.8v16.8h-16.8zM1289.1 1447.7h16.8v16.8h-16.8zM1293.5 1447.7h16.8v16.8h-16.8zM1297.9 1447.9h16.8v16.8h-16.8zM1302.3 1448.2h16.8v16.8h-16.8zM1306.7 1448.5h16.8v16.8h-16.8zM1311.1 1448.9h16.8v16.8h-16.8zM1315.5 1449.3h16.8v16.8h-16.8zM1319.9 1449.7h16.8v16.8h-16.8zM1324.3 1450.1h16.8v16.8h-16.8zM1328.8 1450.3h16.8v16.8h-16.8zM1333.2 1450.5h16.8v16.8h-16.8zM1337.6 1450.5h16.8v16.8h-16.8zM1342.0 1450.5h16.8v16.8h-16.8zM1346.4 1450.3h16.8v16.8h-16.8zM1350.8 1450.2h16.8v16.8h-16.8zM1355.2 1449.9h16.8v16.8h-16.8zM1359.6 1449.7h16.8v16.8h-16.8zM1364.0 1449.4h16.8v16.8h-16.8zM1368.4 1449.1h16.8v16.8h-16.8zM1372.8 1448.8h16.8v16.8h-16.8zM1377.3 1448.5h16.8v16.8h-16.8zM1381.7 1448.2h16.8v16.8h-16.8zM1386.1 1448.0h16.8v16.8h-16.8zM1390.5 1447.8h16.8v16.8h-16.8zM1394.9 1447.7h16.8v16.8h-16.8zM1399.3 1447.7h16.8v16.8h-16.8zM1403.7 1447.7h16.8v16.8h-16.8zM1408.1 1447.8h16.8v16.8h-16.8zM1412.5 1448.0h16.8v16.8h-16.8zM1416.9 1448.3h16.8v16.8h-16.8zM1421.4 1448.6h16.8v16.8h-16.8zM1425.8 1448.9h16.8v16.8h-16.8zM1430.2 1449.3h16.8v16.8h-16.8zM1434.6 1449.6h16.8v16.8h-16.8zM1439.0 1449.9h16.8v16.8h-16.8zM1443.4 1450.2h16.8v16.8h-16.8zM1447.8 1450.4h16.8v16.8h-16.8zM1452.2 1450.5h16.8v16.8h-16.8zM1456.6 1450.5h16.8v16.8h-16.8zM1461.0 1450.5h16.8v16.8h-16.8zM1465.4 1450.3h16.8v16.8h-16.8zM1469.9 1450.1h16.8v16.8h-16.8zM1474.3 1449.8h16.8v16.8h-16.8zM1478.7 1449.5h16.8v16.8h-16.8zM1483.1 1449.1h16.8v16.8h-16.8zM1487.5 1448.8h16.8v16.8h-16.8zM1491.9 1448.4h16.8v16.8h-16.8zM1496.3 1448.2h16.8v16.8h-16.8zM1500.7 1447.9h16.8v16.8h-16.8zM1505.1 1447.8h16.8v16.8h-16.8zM1509.5 1447.7h16.8v16.8h-16.8zM1514.0 1447.7h16.8v16.8h-16.8zM1518.4 1447.8h16.8v16.8h-16.8zM1522.8 1448.0h16.8v16.8h-16.8zM1527.2 1448.3h16.8v16.8h-16.8zM1531.6 1448.6h16.8v16.8h-16.8zM1536.0 1448.9h16.8v16.8h-16.8zM1540.4 1449.3h16.8v16.8h-16.8zM1544.8 1449.6h16.8v16.8h-16.8zM1549.2 1450.0h16.8v16.8h-16.8zM1553.6 1450.2h16.8v16.8h-16.8zM1558.0 1450.4h16.8v16.8h-16.8zM1562.5 1450.5h16.8v16.8h-16.8zM1566.9 1450.5h16.8v16.8h-16.8zM1571.3 1450.4h16.8v16.8h-16.8zM1575.7 1450.2h16.8v16.8h-16.8zM1580.1 1450.0h16.8v16.8h-16.8zM1584.5 1449.7h16.8v16.8h-16.8zM1588.9 1449.3h16.8v16.8h-16.8zM1593.3 1449.0h16.8v16.8h-16.8zM1597.7 1448.6h16.8v16.8h-16.8zM1602.1 1448.3h16.8v16.8h-16.8zM1606.5 1448.0h16.8v16.8h-16.8zM1611.0 1447.8h16.8v16.8h-16.8zM1615.4 1447.7h16.8v16.8h-16.8zM1619.8 1447.7h16.8v16.8h-16.8zM1624.2 1447.8h16.8v16.8h-16.8zM1628.6 1448.0h16.8v16.8h-16.8zM1633.0 1448.3h16.8v16.8h-16.8zM1637.4 1448.7h16.8v16.8h-16.8zM1641.8 1449.1h16.8v16.8h-16.8zM1646.2 1449.5h16.8v16.8h-16.8zM1650.6 1449.9h16.8v16.8h-16.8zM1655.1 1450.2h16.8v16.8h-16.8zM1659.5 1450.4h16.8v16.8h-16.8zM1663.9 1450.5h16.8v16.8h-16.8zM1668.3 1450.5h16.8v16.8h-16.8zM1672.7 1450.3h16.8v16.8h-16.8zM1677.1 1450.0h16.8v16.8h-16.8zM1681.5 1449.6h16.8v16.8h-16.8zM1685.9 1449.2h16.8v16.8h-16.8zM1690.3 1448.7h16.8v16.8h-16.8zM1694.7 1448.3h16.8v16.8h-16.8zM1699.1 1448.0h16.8v16.8h-16.8zM1703.6 1447.8h16.8v16.8h-16.8zM1708.0 1447.7h16.8v16.8h-16.8zM1712.4 1447.7h16.8v16.8h-16.8zM1716.8 1447.9h16.8v16.8h-16.8zM1721.2 1448.2h16.8v16.8h-16.8zM1725.6 1448.6h16.8v16.8h-16.8zM1730.0 1449.0h16.8v16.8h-16.8zM1734.4 1449.5h16.8v16.8h-16.8zM1738.8 1449.9h16.8v16.8h-16.8zM1743.2 1450.2h16.8v16.8h-16.8zM1747.7 1450.4h16.8v16.8h-16.8zM1752.1 1450.5h16.8v16.8h-16.8zM1756.5 1450.5h16.8v16.8h-16.8zM1760.9 1450.5h16.8v16.8h-16.8zM1765.3 1450.5h16.8v16.8h-16.8zM1769.7 1450.5h16.8v16.8h-16.8zM1774.1 1450.5h16.8v16.8h-16.8zM1778.5 1450.5h16.8v16.8h-16.8zM1782.9 1450.5h16.8v16.8h-16.8zM1787.3 1449.2h16.8v16.8h-16.8zM1791.7 1448.1h16.8v16.8h-16.8zM1796.2 1447.0h16.8v16.8h-16.8zM1800.6 1445.3h16.8v16.8h-16.8zM1805.0 1443.6h16.8v16.8h-16.8zM1809.4 1441.3h16.8v16.8h-16.8zM1813.8 1437.8h16.8v16.8h-16.8zM1818.2 1433.8h16.8v16.8h-16.8zM1822.6 1428.7h16.8v16.8h-16.8zM1827.0 1422.4h16.8v16.8h-16.8zM1831.4 1412.8h16.8v16.8h-16.8zM1835.8 1399.0h16.8v16.8h-16.8zM1840.3 1381.4h16.8v16.8h-16.8zM1844.7 1357.7h16.8v16.8h-16.8zM1849.1 1318.8h16.8v16.8h-16.8zM1853.5 1262.6h16.8v16.8h-16.8zM1857.9 1180.2h16.8v16.8h-16.8zM1862.3 1068.5h16.8v16.8h-16.8zM1866.7 944.5h16.8v16.8h-16.8zM1871.1 859.2h16.8v16.8h-16.8zM1875.5 860.6h16.8v16.8h-16.8zM1879.9 928.5h16.8v16.8h-16.8zM1884.3 1014.8h16.8v16.8h-16.8zM1888.8 1089.0h16.8v16.8h-16.8zM1893.2 1146.3h16.8v16.8h-16.8zM1897.6 1186.5h16.8v16.8h-16.8zM1902.0 1213.6h16.8v16.8h-16.8zM1906.4 1232.9h16.8v16.8h-16.8zM1910.8 1243.3h16.8v16.8h-16.8zM1915.2 1249.0h16.8v16.8h-16.8zM1919.6 1248.3h16.8v16.8h-16.8zM1924.0 1242.5h16.8v16.8h-16.8zM1928.4 1231.4h16.8v16.8h-16.8zM1932.9 1212.9h16.8v16.8h-16.8zM1937.3 1187.3h16.8v16.8h-16.8zM1941.7 1152.2h16.8v16.8h-16.8zM1946.1 1102.5h16.8v16.8h-16.8zM1950.5 1038.8h16.8v16.8h-16.8zM1954.9 952.5h16.8v16.8h-16.8zM1959.3 839.4h16.8v16.8h-16.8zM1963.7 698.5h16.8v16.8h-16.8zM1968.1 539.6h16.8v16.8h-16.8zM1972.5 393.9h16.8v16.8h-16.8zM1976.9 309.0h16.8v16.8h-16.8zM1981.4 323.6h16.8v16.8h-16.8zM1985.8 425.0h16.8v16.8h-16.8zM1990.2 566.4h16.8v16.8h-16.8zM1994.6 708.4h16.8v16.8h-16.8zM1999.0 829.5h16.8v16.8h-16.8zM2003.4 927.1h16.8v16.8h-16.8zM2007.8 1003.5h16.8v16.8h-16.8zM2012.2 1060.4h16.8v16.8h-16.8zM2016.6 1104.3h16.8v16.8h-16.8zM2021.0 1137.8h16.8v16.8h-16.8zM2025.5 1164.0h16.8v16.8h-16.8zM2029.9 1183.1h16.8v16.8h-16.8zM2034.3 1197.2h16.8v16.8h-16.8zM2038.7 1207.1h16.8v16.8h-16.8zM2043.1 1213.3h16.8v16.8h-16.8zM2047.5 1215.6h16.8v16.8h-16.8z" fill="#ff0000"/>
</g>
<g font-size="88.5"><text x="262" y="1497.1" text-anchor="end">0</text><text x="262" y="1214.2" text-anchor="end">20</text><text x="262" y="931.4" text-anchor="end">40</text><text x="262" y="648.5" text-anchor="end">60</text><text x="262" y="365.7" text-anchor="end">80</text><text x="262" y="82.8" text-anchor="end">100</text><text x="292.1" y="1576.6" text-anchor="middle">300</text><text x="733.1" y="1576.6" text-anchor="middle">400</text><text x="1174.0" y="1576.6" text-anchor="middle">500</text><text x="1614.9" y="1576.6" text-anchor="middle">600</text><text x="2055.9" y="1576.6" text-anchor="middle">700</text></g>
<text x="1173.3" y="1719.5" font-size="87.3" text-anchor="middle">Wavelength (nm)</text>
<text transform="translate(95.8 767.0) rotate(-90)" font-size="87.3" text-anchor="middle">Transmittance (%)</text>
<g>
<line x1="1414.3" y1="128.3" x2="1600.8" y2="128.3" stroke="#000" stroke-width="5.1"/>
<rect x="1499.5" y="119.7" width="16.8" height="16.8" fill="#0000ff"/>
<line x1="1414.3" y1="228.7" x2="1600.8" y2="228.7" stroke="#000" stroke-width="5.1"/>
<rect x="1499.5" y="220.2" width="16.8" height="16.8" fill="#ff0000"/>
<text x="1617.5" y="156.6" font-size="80.8">Input</text>
<text x="1617.5" y="256.2" font-size="80.8">Output</text>
</g>
</svg>
</body>
</html>
